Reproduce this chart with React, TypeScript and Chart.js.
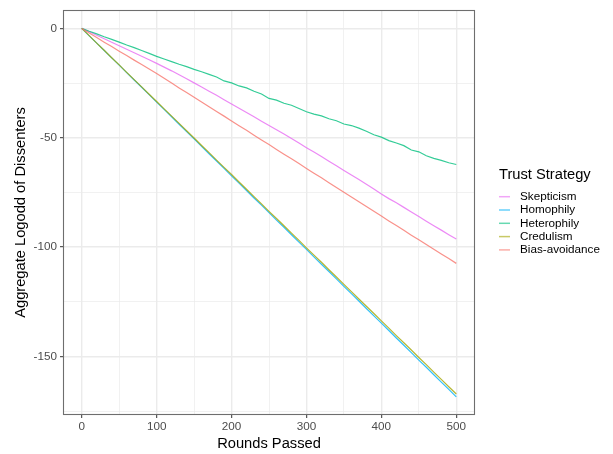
import { useEffect, useRef } from "react";
import { Chart, registerables } from "chart.js";

Chart.register(...registerables);

// Rounds sampled every 10 steps
const rounds = [
  0, 10, 20, 30, 40, 50, 60, 70, 80, 90, 100, 110, 120, 130, 140, 150, 160, 170, 180, 190, 200,
  210, 220, 230, 240, 250, 260, 270, 280, 290, 300, 310, 320, 330, 340, 350, 360, 370, 380, 390,
  400, 410, 420, 430, 440, 450, 460, 470, 480, 490, 500,
];

const skepticism = [
  0, -1.5, -3.1, -4.7, -6.3, -7.9, -9.5, -11.1, -12.7, -14.3, -16.0, -17.7, -19.4, -21.2, -23.0,
  -24.9, -26.8, -28.7, -30.6, -32.6, -34.6, -36.5, -38.4, -40.4, -42.4, -44.4, -46.3, -48.3, -50.3,
  -52.4, -54.5, -56.5, -58.6, -60.7, -62.8, -64.9, -67.0, -69.1, -71.2, -73.4, -75.7, -77.8, -79.7,
  -81.8, -83.9, -86.0, -88.1, -90.2, -92.2, -94.3, -96.3,
];

const homophily = [
  0, -3.4, -6.7, -10.1, -13.5, -16.8, -20.2, -23.6, -26.9, -30.3, -33.7, -37.0, -40.4, -43.8, -47.2,
  -50.5, -53.9, -57.3, -60.6, -64.0, -67.4, -70.7, -74.1, -77.5, -80.8, -84.2, -87.6, -90.9, -94.3,
  -97.7, -101.0, -104.4, -107.8, -111.1, -114.5, -117.9, -121.2, -124.6, -128.0, -131.4, -134.7,
  -138.1, -141.5, -144.8, -148.2, -151.6, -154.9, -158.3, -161.7, -165.0, -168.4,
];

const heterophily = [
  0, -1.3, -2.5, -3.8, -5.0, -6.3, -7.6, -8.8, -10.1, -11.4, -12.8, -14.0, -15.2, -16.4, -17.5,
  -18.7, -19.8, -21.0, -22.2, -24.0, -24.9, -26.3, -27.2, -28.7, -30.0, -32.0, -32.8, -34.2, -35.1,
  -36.6, -38.1, -39.2, -40.0, -41.3, -42.2, -43.7, -44.4, -45.6, -47.0, -48.6, -49.7, -51.3, -52.4,
  -53.6, -55.6, -56.4, -58.2, -59.4, -60.3, -61.4, -62.2,
];

const credulism = [
  0, -3.3, -6.7, -10.0, -13.4, -16.7, -20.1, -23.4, -26.7, -30.1, -33.4, -36.8, -40.1, -43.4, -46.8,
  -50.1, -53.5, -56.8, -60.2, -63.5, -66.8, -70.2, -73.5, -76.9, -80.2, -83.6, -86.9, -90.2, -93.6,
  -96.9, -100.3, -103.6, -106.9, -110.3, -113.6, -117.0, -120.3, -123.7, -127.0, -130.3, -133.7,
  -137.0, -140.4, -143.7, -147.0, -150.4, -153.7, -157.1, -160.4, -163.8, -167.1,
];

const biasAvoidance = [
  0, -2.1, -4.2, -6.3, -8.3, -10.4, -12.4, -14.5, -16.5, -18.6, -20.6, -22.8, -25.0, -27.2, -29.3,
  -31.5, -33.6, -35.8, -38.0, -40.1, -42.3, -44.5, -46.6, -48.8, -51.0, -53.1, -55.3, -57.5, -59.6,
  -61.8, -64.0, -66.2, -68.3, -70.5, -72.7, -74.9, -77.1, -79.2, -81.4, -83.6, -85.8, -88.0, -90.1,
  -92.3, -94.5, -96.6, -98.8, -100.9, -103.1, -105.2, -107.4,
];

const strategies = ["Skepticism", "Homophily", "Heterophily", "Credulism", "Bias-avoidance"];
const seriesValues = [skepticism, homophily, heterophily, credulism, biasAvoidance];
const strategyColors = ["#E76BF3", "#00B0F6", "#00BF7D", "#A3A500", "#F8766D"];

// Gridline positions (majors carry labels)
const xTicks = [0, 50, 100, 150, 200, 250, 300, 350, 400, 450, 500];
const xLabelled = [0, 100, 200, 300, 400, 500];
const yTicks = [-175, -150, -125, -100, -75, -50, -25, 0];
const yLabelled = [-150, -100, -50, 0];

const legendTitle = "Trust Strategy";
const xTitle = "Rounds Passed";
const yTitle = "Aggregate Logodd of Dissenters";

const FONT = "'Liberation Sans', Arial, Helvetica, sans-serif";

function withAlpha(hex: string, a: number) {
  const n = parseInt(hex.slice(1), 16);
  return `rgba(${(n >> 16) & 255}, ${(n >> 8) & 255}, ${n & 255}, ${a})`;
}

const panelAndLegend = {
  id: "panelAndLegend",
  afterDraw(chart: any) {
    const { ctx, chartArea } = chart;
    ctx.save();
    // panel border
    ctx.strokeStyle = "#6E6E6E";
    ctx.lineWidth = 1.1;
    ctx.strokeRect(
      Math.round(chartArea.left) + 0.5,
      Math.round(chartArea.top) + 0.5,
      Math.round(chartArea.right - chartArea.left) - 1,
      Math.round(chartArea.bottom - chartArea.top) - 1
    );

    // legend
    const lx = 499;
    ctx.fillStyle = "#000000";
    ctx.font = `14.7px ${FONT}`;
    ctx.textBaseline = "middle";
    ctx.textAlign = "left";
    ctx.fillText(legendTitle, lx, 175);
    ctx.font = `11.7px ${FONT}`;
    strategies.forEach((name, i) => {
      const cy = 196.7 + i * 13.3;
      ctx.strokeStyle = withAlpha(strategyColors[i], 0.6);
      ctx.lineWidth = 1.5;
      ctx.beginPath();
      ctx.moveTo(lx, cy);
      ctx.lineTo(lx + 11, cy);
      ctx.stroke();
      ctx.fillStyle = "#000000";
      ctx.fillText(name, 520, cy);
    });
    ctx.restore();
  },
};

export default function App() {
  const canvasRef = useRef<HTMLCanvasElement | null>(null);

  useEffect(() => {
    const canvas = canvasRef.current;
    if (!canvas) return;

    // ggplot-style draw order: later strategies sit on top
    const datasets = strategies.map((name, i) => ({
      label: name,
      data: rounds.map((r, j) => ({ x: r, y: seriesValues[i][j] })),
      borderColor: withAlpha(strategyColors[i], 0.8),
      borderWidth: 1.2,
      pointRadius: 0,
      tension: 0,
      fill: false,
      order: strategies.length - i,
    }));

    const gridWidth = (labelled: number[]) => (c: any) =>
      c.tick && labelled.includes(c.tick.value) ? 1.4 : 0.7;
    const tickColor = (labelled: number[]) => (c: any) =>
      c.tick && labelled.includes(c.tick.value) ? "#333333" : "rgba(0,0,0,0)";

    const chart = new Chart(canvas, {
      type: "line",
      data: { datasets },
      plugins: [panelAndLegend],
      options: {
        animation: false,
        responsive: false,
        devicePixelRatio: 1,
        layout: { padding: { left: 0, top: 8, right: 138, bottom: 0 } },
        plugins: { legend: { display: false }, tooltip: { enabled: false } },
        scales: {
          x: {
            type: "linear",
            min: -25,
            max: 525,
            afterBuildTicks: (scale: any) => {
              scale.ticks = xTicks.map((v) => ({ value: v }));
            },
            afterFit: (scale: any) => {
              scale.height = 39;
            },
            border: { display: false },
            grid: {
              color: "#EBEBEB",
              lineWidth: gridWidth(xLabelled),
              tickColor: tickColor(xLabelled),
              tickLength: 3,
              tickWidth: 1,
            },
            ticks: {
              autoSkip: false,
              maxRotation: 0,
              padding: 2,
              color: "#4D4D4D",
              font: { family: FONT, size: 11.7 },
              callback: (v: any) => (xLabelled.includes(Number(v)) ? String(v) : ""),
            },
            title: {
              display: true,
              text: xTitle,
              color: "#000000",
              font: { family: FONT, size: 14.7 },
              padding: { top: 0, bottom: 1 },
            },
          },
          y: {
            type: "linear",
            min: -176.7,
            max: 8.4,
            afterBuildTicks: (scale: any) => {
              scale.ticks = yTicks.map((v) => ({ value: v }));
            },
            afterFit: (scale: any) => {
              scale.width = 63;
            },
            border: { display: false },
            grid: {
              color: "#EBEBEB",
              lineWidth: gridWidth(yLabelled),
              tickColor: tickColor(yLabelled),
              tickLength: 3,
              tickWidth: 1,
            },
            ticks: {
              autoSkip: false,
              padding: 3,
              color: "#4D4D4D",
              font: { family: FONT, size: 11.7 },
              callback: (v: any) => (yLabelled.includes(Number(v)) ? String(v) : ""),
            },
            title: {
              display: true,
              text: yTitle,
              color: "#000000",
              font: { family: FONT, size: 14.7 },
              padding: { top: 12, bottom: 0 },
            },
          },
        },
      },
    } as any);

    return () => chart.destroy();
  }, []);

  return (
    <div style={{ position: "fixed", left: 0, top: 0, width: 613, height: 454, background: "#ffffff" }}>
      <canvas ref={canvasRef} width={613} height={454} style={{ display: "block" }} />
    </div>
  );
}
